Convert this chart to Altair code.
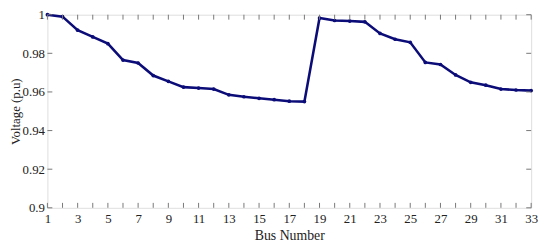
import altair as alt
import pandas as pd

bus = list(range(1, 34))
voltage = [1.0, 0.999, 0.992, 0.9885, 0.985, 0.9765, 0.975, 0.9685, 0.9655, 0.9625,
           0.962, 0.9615, 0.9585, 0.9575, 0.9567, 0.956, 0.9552, 0.955,
           0.9983, 0.997, 0.9967, 0.9963, 0.9903, 0.9873, 0.9857, 0.9753, 0.9742,
           0.9688, 0.965, 0.9635, 0.9615, 0.961, 0.9607]
x_labels = list(range(1, 34, 2))
y_ticks = [0.9, 0.92, 0.94, 0.96, 0.98, 1.0]

df = pd.DataFrame({"bus": bus, "v": voltage})
xt = pd.DataFrame({"bus": bus})
yt = pd.DataFrame({"v": y_ticks})

W, H = 491, 196
font = "Liberation Serif"

xs = alt.Scale(domain=[1, 33], nice=False, zero=False)
ys = alt.Scale(domain=[0.9, 1.0], nice=False, zero=False)

xax = alt.Axis(values=x_labels, title="Bus Number", format="d", labelPadding=5, titlePadding=3, titleFontSize=14)
yax = alt.Axis(values=y_ticks, title="Voltage (p.u)", labelPadding=3, titlePadding=0, titleFontSize=13,
               labelExpr="datum.value == 1 ? '1' : (datum.value == 0.9 ? '0.9' : format(datum.value, '.2f'))")

line = alt.Chart(df).mark_line(color="#0c0c78", strokeWidth=2.6, point=alt.OverlayMarkDef(color="#0c0c78", size=14, filled=True)).encode(
    x=alt.X("bus:Q", scale=xs, axis=xax),
    y=alt.Y("v:Q", scale=ys, axis=yax),
)

tick_color = "#777"
xb = alt.Chart(xt).mark_rule(color=tick_color, strokeWidth=1).encode(
    x=alt.X("bus:Q", scale=xs, axis=xax), y=alt.value(H), y2=alt.value(H - 5))
xtop = alt.Chart(xt).mark_rule(color=tick_color, strokeWidth=1).encode(
    x=alt.X("bus:Q", scale=xs, axis=xax), y=alt.value(0), y2=alt.value(5))
yl = alt.Chart(yt).mark_rule(color=tick_color, strokeWidth=1).encode(
    y=alt.Y("v:Q", scale=ys, axis=yax), x=alt.value(0), x2=alt.value(5))
yr = alt.Chart(yt).mark_rule(color=tick_color, strokeWidth=1).encode(
    y=alt.Y("v:Q", scale=ys, axis=yax), x=alt.value(W), x2=alt.value(W - 5))

chart = alt.layer(line, xb, xtop, yl, yr).properties(
    width=W, height=H,
    autosize=alt.AutoSizeParams(type="none"),
    padding={"left": 40, "top": 5, "right": 11, "bottom": 40},
).configure_view(stroke="#888", strokeWidth=1).configure(background="white").configure_axis(
    grid=False, ticks=False, domain=False,
    labelFont=font, labelFontSize=13, labelColor="#222",
    titleFont=font, titleFontWeight="normal", titleColor="#222",
    labelOverlap=False, labelFlush=False, labelBound=False,
)

chart.save("out.html", embed_options={"renderer": "svg", "actions": False})
